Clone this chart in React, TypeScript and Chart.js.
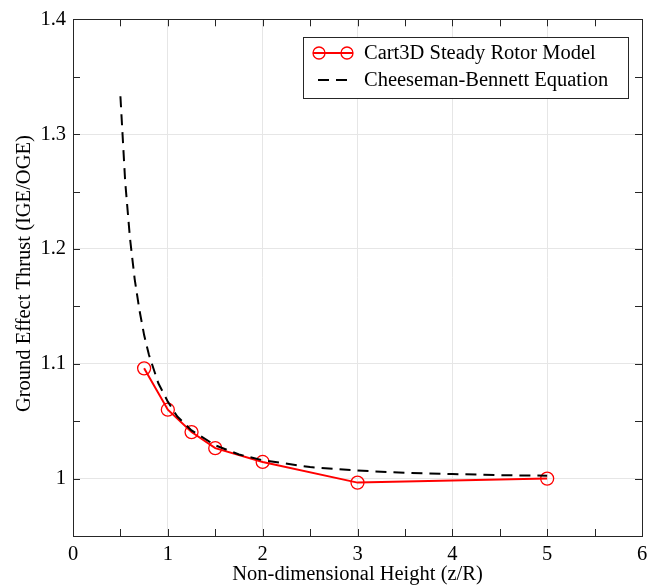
import React, { useEffect, useRef } from "react";
import { Chart, registerables } from "chart.js";

Chart.register(...registerables);

const cart3dX = [0.75, 1, 1.25, 1.5, 2, 3, 5];
const cart3dY = [1.096, 1.06, 1.0405, 1.0265, 1.0145, 0.9965, 1.0];

const cbX = [0.5, 0.55, 0.6, 0.65, 0.7, 0.75, 0.8, 0.9, 1, 1.1, 1.25, 1.5, 1.75, 2, 2.5, 3, 3.5, 4, 4.5, 5];
const cbY = [1.333, 1.259, 1.21, 1.174, 1.147, 1.125, 1.108, 1.083, 1.067, 1.054, 1.042, 1.029, 1.021, 1.016, 1.01, 1.007, 1.005, 1.004, 1.003, 1.0025];

const xTicks = [0, 1, 2, 3, 4, 5, 6];
const xMinorTicks = [0.5, 1.5, 2.5, 3.5, 4.5, 5.5];
const yTicks = [1, 1.1, 1.2, 1.3, 1.4];
const yMinorTicks = [0.95, 1.05, 1.15, 1.25, 1.35];

const xTitle = "Non-dimensional Height (z/R)";
const yTitle = "Ground Effect Thrust (IGE/OGE)";
const seriesNames = ["Cart3D Steady Rotor Model", "Cheeseman-Bennett Equation"];

const FONT = '"Liberation Serif", "Times New Roman", serif';
const FS = 20.5;
const FRAME = "#262626";
const DASH = [11, 7];

const framePlugin = {
  id: "framePlugin",
  afterDraw(chart: any) {
    const { ctx, chartArea: a, scales } = chart;
    const xs = scales.x;
    const ys = scales.y;
    ctx.save();
    ctx.strokeStyle = FRAME;
    ctx.lineWidth = 1;
    ctx.strokeRect(Math.round(a.left) + 0.5, Math.round(a.top) + 0.5, Math.round(a.right - a.left), Math.round(a.bottom - a.top));
    const tl = 7;
    ctx.beginPath();
    [...xTicks, ...xMinorTicks].forEach((v) => {
      const px = Math.round(xs.getPixelForValue(v)) + 0.5;
      ctx.moveTo(px, a.bottom);
      ctx.lineTo(px, a.bottom - tl);
      ctx.moveTo(px, a.top);
      ctx.lineTo(px, a.top + tl);
    });
    [...yTicks, ...yMinorTicks].forEach((v) => {
      const py = Math.round(ys.getPixelForValue(v)) + 0.5;
      ctx.moveTo(a.left, py);
      ctx.lineTo(a.left + tl, py);
      ctx.moveTo(a.right, py);
      ctx.lineTo(a.right - tl, py);
    });
    ctx.stroke();

    // axis titles
    ctx.fillStyle = "#000";
    ctx.font = FS + "px " + FONT;
    ctx.textAlign = "center";
    ctx.textBaseline = "middle";
    ctx.fillText(xTitle, (a.left + a.right) / 2, 575);
    ctx.save();
    ctx.translate(25, (a.top + a.bottom) / 2 - 4);
    ctx.rotate(-Math.PI / 2);
    ctx.fillText(yTitle, 0, 0);
    ctx.restore();

    // legend
    const lx = 303, ly = 37, lw = 325, lh = 61;
    ctx.fillStyle = "#fff";
    ctx.fillRect(lx, ly, lw, lh);
    ctx.strokeStyle = FRAME;
    ctx.lineWidth = 1;
    ctx.strokeRect(lx + 0.5, ly + 0.5, lw, lh);
    const rows = [53, 80];
    ctx.strokeStyle = "#ff0000";
    ctx.lineWidth = 2;
    ctx.setLineDash([]);
    ctx.beginPath();
    ctx.moveTo(313, rows[0]);
    ctx.lineTo(353, rows[0]);
    ctx.stroke();
    ctx.lineWidth = 1.3;
    [319, 347].forEach((cx) => {
      ctx.beginPath();
      ctx.arc(cx, rows[0], 6, 0, Math.PI * 2);
      ctx.stroke();
    });
    ctx.strokeStyle = "#000";
    ctx.lineWidth = 2;
    ctx.setLineDash(DASH);
    ctx.beginPath();
    ctx.moveTo(318, rows[1]);
    ctx.lineTo(347, rows[1]);
    ctx.stroke();
    ctx.setLineDash([]);
    ctx.fillStyle = "#000";
    ctx.textAlign = "left";
    ctx.font = FS + "px " + FONT;
    ctx.fillText(seriesNames[0], 364, rows[0] + 1);
    ctx.fillText(seriesNames[1], 364, rows[1] + 1);
    ctx.restore();
  },
};

export default function App() {
  const ref = useRef<HTMLCanvasElement>(null);
  useEffect(() => {
    document.body.style.margin = "0";
    const canvas = ref.current!;
    const chart = new Chart(canvas, {
      type: "line",
      data: {
        datasets: [
          {
            label: seriesNames[1],
            data: cbX.map((x, i) => ({ x, y: cbY[i] })),
            borderColor: "#000",
            borderWidth: 2,
            borderDash: DASH,
            pointRadius: 0,
            tension: 0,
            fill: false,
          },
          {
            label: seriesNames[0],
            data: cart3dX.map((x, i) => ({ x, y: cart3dY[i] })),
            borderColor: "#ff0000",
            borderWidth: 2,
            pointStyle: "circle",
            pointRadius: 6.5,
            pointBorderWidth: 1.3,
            pointBorderColor: "#ff0000",
            pointBackgroundColor: "rgba(0,0,0,0)",
            tension: 0,
            fill: false,
          },
        ],
      },
      options: {
        animation: false,
        responsive: false,
        maintainAspectRatio: false,
        events: [],
        layout: { padding: { top: 14, right: 15, left: 0, bottom: 0 } },
        plugins: { legend: { display: false }, tooltip: { enabled: false } },
        scales: {
          x: {
            type: "linear",
            min: 0,
            max: 6,
            afterBuildTicks: (s: any) => {
              s.ticks = xTicks.map((v) => ({ value: v }));
            },
            afterFit: (s: any) => {
              s.height = 50;
            },
            grid: { color: "#e6e6e6", drawTicks: false, lineWidth: 1 },
            border: { display: false },
            ticks: {
              color: "#000",
              font: { family: FONT, size: FS },
              padding: 6,
              maxRotation: 0,
              autoSkip: false,
              callback: (v: any) => String(v),
            },
          },
          y: {
            type: "linear",
            min: 0.95,
            max: 1.4,
            afterBuildTicks: (s: any) => {
              s.ticks = yTicks.map((v) => ({ value: v }));
            },
            afterFit: (s: any) => {
              s.width = 73;
            },
            grid: { color: "#e6e6e6", drawTicks: false, lineWidth: 1 },
            border: { display: false },
            ticks: {
              color: "#000",
              font: { family: FONT, size: FS },
              padding: 7,
              autoSkip: false,
              callback: (v: any) => String(Math.round(v * 10) / 10),
            },
          },
        },
      },
      plugins: [framePlugin],
    } as any);
    return () => chart.destroy();
  }, []);
  return (
    <div style={{ position: "absolute", left: 0, top: 0, width: 657, height: 586 }}>
      <canvas ref={ref} width={657} height={586} style={{ width: 657, height: 586 }} />
    </div>
  );
}
